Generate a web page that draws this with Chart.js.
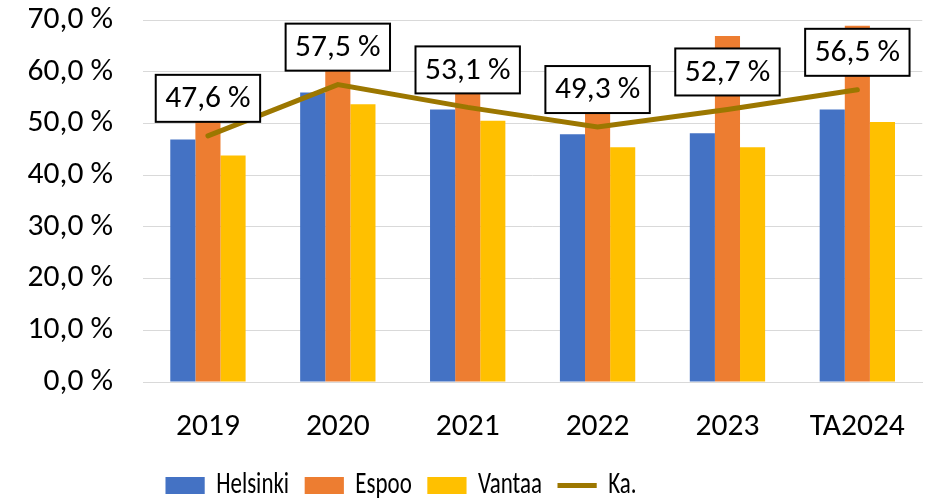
<!DOCTYPE html>
<html>
<head>
<meta charset="utf-8">
<script src="https://cdn.jsdelivr.net/npm/chart.js"></script>
<style>
  html, body { margin: 0; padding: 0; background: #fff; }
</style>
</head>
<body>
<div style="width:931px;height:500px"><canvas id="kaavio" width="931" height="500"></canvas></div>
<script>
// vuodet ja kaupunkien osuudet (%)
const vuodet = ["2019", "2020", "2021", "2022", "2023", "TA2024"];
const helsinki = [46.9, 56.0, 52.7, 47.9, 48.1, 52.7];
const espoo = [54.4, 65.2, 58.5, 57.0, 66.9, 68.9];
const vantaa = [43.8, 53.7, 50.5, 45.4, 45.4, 50.3];
const keskiarvo = [47.6, 57.5, 53.1, 49.3, 52.7, 56.5];

const fontti = "Carlito, 'Open Sans', sans-serif";

function muotoile(v) {
  return v.toFixed(1).replace(".", ",") + " %";
}

// valkoiset laatikot keskiarvon arvoille
const arvolaatikot = {
  id: "arvolaatikot",
  afterDatasetsDraw(chart) {
    const ctx = chart.ctx;
    const meta = chart.getDatasetMeta(3);
    ctx.save();
    ctx.font = "31.5px " + fontti;
    meta.data.forEach((p, i) => {
      const teksti = muotoile(keskiarvo[i]);
      const w = ctx.measureText(teksti).width + 19;
      const h = 47;
      const x = p.x - w / 2;
      const y = p.y - 14 - h;
      ctx.fillStyle = "#fff";
      ctx.fillRect(x, y, w, h);
      ctx.strokeStyle = "#000";
      ctx.lineWidth = 2;
      ctx.strokeRect(x, y, w, h);
      ctx.fillStyle = "#000";
      ctx.textAlign = "center";
      ctx.textBaseline = "middle";
      ctx.fillText(teksti, p.x, y + h / 2 + 1);
    });
    ctx.restore();
  }
};

// selite: kiinteä korkeus ja kapeampi piirto (kuten alkuperäisessä)
const selite = {
  id: "selite",
  beforeInit(chart) {
    const lg = chart.legend;
    const fit = lg.fit;
    lg.fit = function () {
      fit.bind(lg)();
      this.height = 51;
    };
    const draw = lg.draw;
    lg.draw = function (area) {
      const ctx = chart.ctx;
      const keski = (lg.left + lg.right) / 2;
      ctx.save();
      ctx.translate(401, 0);
      ctx.scale(0.74, 1);
      ctx.translate(-keski, 0);
      draw.call(lg, area);
      ctx.restore();
    };
  }
};

const data = {
  labels: vuodet,
  datasets: [
    { label: "Helsinki", data: helsinki, backgroundColor: "#4472C4", order: 1, pointStyle: "rect" },
    { label: "Espoo", data: espoo, backgroundColor: "#ED7D31", order: 1, pointStyle: "rect" },
    { label: "Vantaa", data: vantaa, backgroundColor: "#FFC000", order: 1, pointStyle: "rect" },
    {
      type: "line",
      label: "Ka.",
      data: keskiarvo,
      borderColor: "#9C7700",
      backgroundColor: "#9C7700",
      borderWidth: 5,
      borderCapStyle: "round",
      pointRadius: 0,
      pointStyle: "line",
      tension: 0,
      order: 0
    }
  ]
};

const config = {
  type: "bar",
  data: data,
  options: {
    responsive: false,
    animation: false,
    categoryPercentage: 0.58,
    barPercentage: 1,
    layout: { padding: { top: 20, right: 2, left: 0, bottom: 0 } },
    plugins: {
      tooltip: { enabled: false },
      legend: {
        position: "bottom",
        labels: {
          usePointStyle: true,
          pointStyleWidth: 53,
          boxWidth: 53,
          boxHeight: 17,
          padding: 21,
          color: "#000",
          font: { family: fontti, size: 31 },
          sort: (a, b) => a.datasetIndex - b.datasetIndex
        }
      }
    },
    scales: {
      x: {
        grid: { display: false, drawTicks: false },
        border: { color: "#D9D9D9", width: 1 },
        ticks: { color: "#000", padding: 26, font: { family: fontti, size: 31.5 } },
        afterFit: (s) => { s.height = 67; }
      },
      y: {
        min: 0,
        max: 70,
        ticks: {
          stepSize: 10,
          color: "#000",
          padding: 30,
          font: { family: fontti, size: 31.5 },
          callback: (v) => muotoile(v)
        },
        grid: { color: "#D9D9D9", drawTicks: false },
        border: { display: false },
        afterFit: (s) => {
          s.width = 143;
          s.paddingTop = 0;
          s.paddingBottom = 0;
        }
      }
    }
  },
  plugins: [arvolaatikot, selite]
};

const canvas = document.getElementById("kaavio");
new Chart(canvas, config);
</script>
</body>
</html>
